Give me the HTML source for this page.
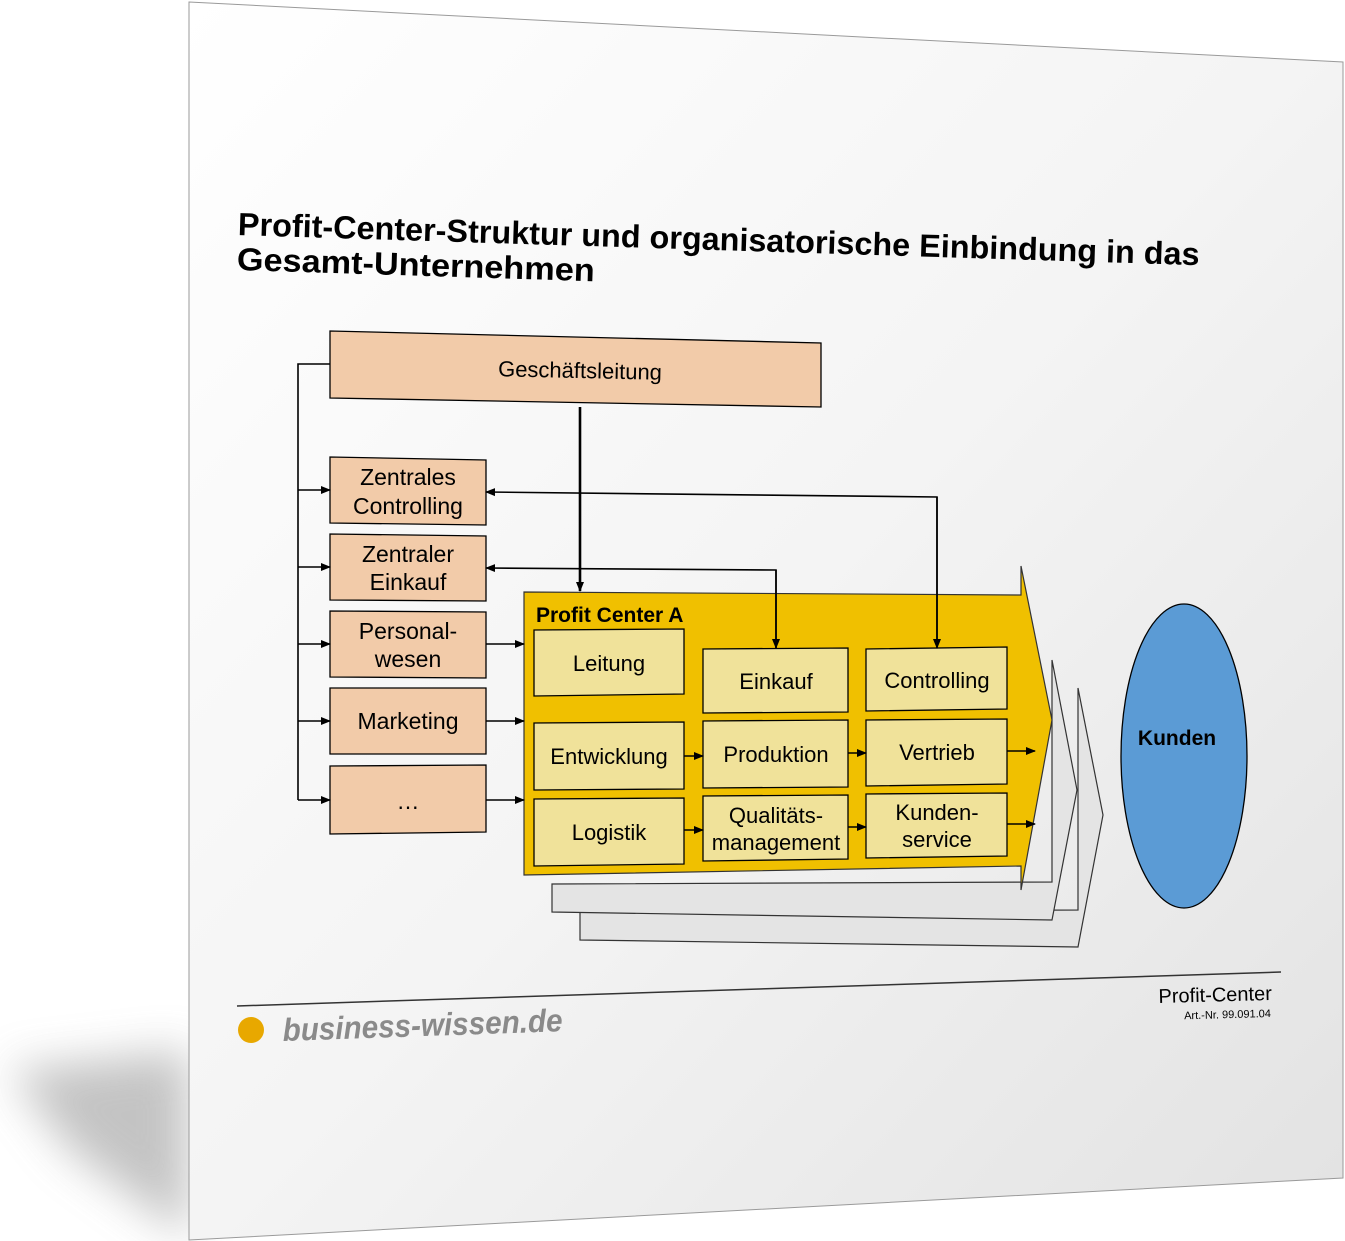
<!DOCTYPE html>
<html><head><meta charset="utf-8"><style>
html,body{margin:0;padding:0;background:#fff;}
svg{display:block;}
text{font-family:"Liberation Sans",Arial,sans-serif;}
</style></head><body>
<svg width="1345" height="1241" viewBox="0 0 1345 1241" xmlns="http://www.w3.org/2000/svg">
<defs>
<linearGradient id="pg" x1="0" y1="0" x2="1" y2="1">
<stop offset="0" stop-color="#ffffff"/><stop offset="0.5" stop-color="#f4f4f4"/><stop offset="1" stop-color="#e2e2e2"/>
</linearGradient>
<filter id="bl" x="-0.5" y="-0.5" width="2" height="2"><feGaussianBlur stdDeviation="22"/></filter>
<marker id="ah" markerWidth="10" markerHeight="10" refX="9" refY="5" orient="auto" markerUnits="userSpaceOnUse">
<path d="M0,1 L10,5 L0,9 z" fill="#000"/></marker>
</defs>
<!-- shadow -->
<polygon points="189,1050 189,1238 70,1150 10,1070" fill="#aaa" filter="url(#bl)" opacity="0.7"/>
<!-- page -->
<polygon points="189,2 1343,62 1343,1178 189,1240" fill="url(#pg)" stroke="#9a9a9a" stroke-width="1"/>

<!-- title -->
<g transform="rotate(1.8 238 225)">
<text x="238" y="235" font-size="32" font-weight="bold" fill="#000" textLength="962" lengthAdjust="spacingAndGlyphs">Profit-Center-Struktur und organisatorische Einbindung in das</text>
<text x="238" y="270" font-size="32" font-weight="bold" fill="#000" textLength="358" lengthAdjust="spacingAndGlyphs">Gesamt-Unternehmen</text>
</g>

<!-- gray arrows -->
<polygon points="580,912 1078,910 1078,688 1103,815 1078,947 580,940" fill="#e4e4e4" stroke="#333" stroke-width="1.2"/>
<polygon points="552,884 1052,882 1052,660 1077,790 1052,920 552,912" fill="#e4e4e4" stroke="#333" stroke-width="1.2"/>
<!-- yellow arrow -->
<polygon points="524,592 1021,595 1021,566 1052,720 1021,890 1021,866 524,875" fill="#f0c000" stroke="#333" stroke-width="1.2"/>
<text x="536" y="622" font-size="21" font-weight="bold">Profit Center A</text>

<!-- Geschäftsleitung -->
<polygon points="330,331 821,343 821,407 330,398" fill="#f2cba9" stroke="#000" stroke-width="1.3"/>
<text x="580" y="378" font-size="22" text-anchor="middle" transform="rotate(1.2 580 372)">Geschäftsleitung</text>

<!-- left boxes -->
<g fill="#f2cba9" stroke="#000" stroke-width="1.3">
<polygon points="330,457 486,460 486,525 330,523"/>
<polygon points="330,534 486,536 486,601 330,600"/>
<polygon points="330,611 486,612 486,678 330,677"/>
<polygon points="330,688 486,688 486,754 330,754"/>
<polygon points="330,766 486,765 486,832 330,834"/>
</g>
<g font-size="23" text-anchor="middle">
<text x="408" y="485">Zentrales</text><text x="408" y="514">Controlling</text>
<text x="408" y="562">Zentraler</text><text x="408" y="590">Einkauf</text>
<text x="408" y="639">Personal-</text><text x="408" y="667">wesen</text>
<text x="408" y="729">Marketing</text>
<text x="408" y="809">…</text>
</g>

<!-- inner boxes -->
<g fill="#f0e29a" stroke="#000" stroke-width="1.3">
<polygon points="534,630 684,629 684,694 534,696"/>
<polygon points="703,649 848,648 848,712 703,713"/>
<polygon points="866,649 1007,647 1007,709 866,711"/>
<polygon points="534,723 684,722 684,789 534,790"/>
<polygon points="703,721 848,720 848,787 703,788"/>
<polygon points="866,720 1007,719 1007,784 866,786"/>
<polygon points="534,799 684,798 684,864 534,866"/>
<polygon points="703,796 848,795 848,859 703,861"/>
<polygon points="866,794 1007,793 1007,856 866,858"/>
</g>
<g font-size="22" text-anchor="middle">
<text x="609" y="671">Leitung</text>
<text x="776" y="689">Einkauf</text>
<text x="937" y="688">Controlling</text>
<text x="609" y="764">Entwicklung</text>
<text x="776" y="762">Produktion</text>
<text x="937" y="760">Vertrieb</text>
<text x="609" y="840">Logistik</text>
<text x="776" y="823">Qualitäts-</text><text x="776" y="850">management</text>
<text x="937" y="820">Kunden-</text><text x="937" y="847">service</text>
</g>

<!-- connectors -->
<g stroke="#000" stroke-width="1.6" fill="none">
<polyline points="330,364 298,364 298,800"/>
<line x1="298" y1="490" x2="330" y2="490" marker-end="url(#ah)"/>
<line x1="298" y1="567" x2="330" y2="567" marker-end="url(#ah)"/>
<line x1="298" y1="644" x2="330" y2="644" marker-end="url(#ah)"/>
<line x1="298" y1="721" x2="330" y2="721" marker-end="url(#ah)"/>
<line x1="298" y1="800" x2="330" y2="800" marker-end="url(#ah)"/>
<line x1="486" y1="644" x2="524" y2="644" marker-end="url(#ah)"/>
<line x1="486" y1="721" x2="524" y2="721" marker-end="url(#ah)"/>
<line x1="486" y1="800" x2="524" y2="800" marker-end="url(#ah)"/>
<line x1="580" y1="407" x2="580" y2="591" stroke-width="2.6" marker-end="url(#ah)"/>
<polyline points="937,648 937,497 486,492" marker-end="url(#ah)"/>
<polyline points="776,648 776,570 486,568" marker-end="url(#ah)"/>
<line x1="937" y1="497" x2="937" y2="648" marker-end="url(#ah)"/>
<line x1="776" y1="570" x2="776" y2="648" marker-end="url(#ah)"/>
<line x1="684" y1="756" x2="703" y2="756" marker-end="url(#ah)"/>
<line x1="848" y1="753" x2="866" y2="753" marker-end="url(#ah)"/>
<line x1="1007" y1="751" x2="1035" y2="751" marker-end="url(#ah)"/>
<line x1="684" y1="830" x2="703" y2="830" marker-end="url(#ah)"/>
<line x1="848" y1="827" x2="866" y2="827" marker-end="url(#ah)"/>
<line x1="1007" y1="824" x2="1035" y2="824" marker-end="url(#ah)"/>
</g>

<!-- Kunden -->
<ellipse cx="1184" cy="756" rx="63" ry="152" fill="#5b9bd5" stroke="#000" stroke-width="1.3"/>
<text x="1177" y="745" font-size="21" font-weight="bold" text-anchor="middle">Kunden</text>

<!-- footer -->
<line x1="237" y1="1006" x2="1281" y2="972" stroke="#333" stroke-width="1.5"/>
<circle cx="251" cy="1030" r="13" fill="#e8a800"/>
<text x="283" y="1041" font-size="32" font-weight="bold" font-style="italic" fill="#8a8a8a" transform="rotate(-2 283 1041)" textLength="280" lengthAdjust="spacingAndGlyphs">business-wissen.de</text>
<text x="1272" y="1000" font-size="20" text-anchor="end" transform="rotate(-1.5 1272 1000)">Profit-Center</text>
<text x="1271" y="1017" font-size="11" text-anchor="end" transform="rotate(-1.5 1271 1017)">Art.-Nr. 99.091.04</text>
</svg>
</body></html>
